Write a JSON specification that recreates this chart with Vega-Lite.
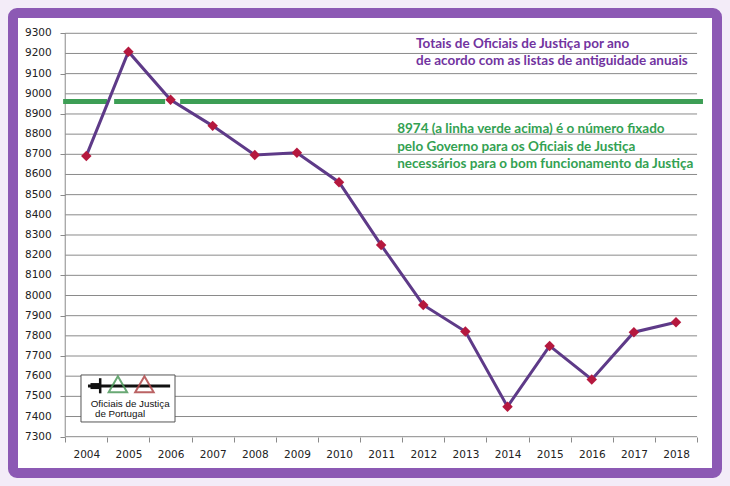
{
  "$schema": "https://vega.github.io/schema/vega-lite/v6.json",
  "width": 704,
  "height": 460,
  "autosize": "none",
  "padding": {"left": 13, "top": 13, "right": 13, "bottom": 13},
  "background": "#f3ecf8",
  "config": {
    "view": {"stroke": "#8c59b4", "strokeWidth": 10, "fill": "#ffffff", "cornerRadius": 4},
    "axis": {"labelFont": "DejaVu Sans", "labelFontSize": 10.5, "labelColor": "#222222", "tickColor": "#8a8a8a", "title": null, "labelFlush": false, "labelBound": false}
  },
  "datasets": {
    "one": [{}],
    "series": [
      {"year": 2004, "value": 8692},
      {"year": 2005, "value": 9209},
      {"year": 2006, "value": 8970},
      {"year": 2007, "value": 8841},
      {"year": 2008, "value": 8697},
      {"year": 2009, "value": 8708},
      {"year": 2010, "value": 8562},
      {"year": 2011, "value": 8250},
      {"year": 2012, "value": 7953},
      {"year": 2013, "value": 7821},
      {"year": 2014, "value": 7449},
      {"year": 2015, "value": 7750},
      {"year": 2016, "value": 7584},
      {"year": 2017, "value": 7818},
      {"year": 2018, "value": 7867}
    ],
    "grid": [
      {"value": 7300}, {"value": 7400}, {"value": 7500}, {"value": 7600}, {"value": 7700},
      {"value": 7800}, {"value": 7900}, {"value": 8000}, {"value": 8100}, {"value": 8200},
      {"value": 8300}, {"value": 8400}, {"value": 8500}, {"value": 8600}, {"value": 8700},
      {"value": 8800}, {"value": 8900}, {"value": 9000}, {"value": 9100}, {"value": 9200},
      {"value": 9300}
    ],
    "purpleNotes": [
      {"label": "Totais de Oficiais de Justiça por ano", "year": 2011.83, "value": 9225},
      {"label": "de acordo com as listas de antiguidade anuais", "year": 2011.83, "value": 9143}
    ],
    "greenNotes": [
      {"label": "8974  (a linha verde acima) é o número fixado", "year": 2011.38, "value": 8808},
      {"label": "pelo Governo para os Oficiais de Justiça", "year": 2011.38, "value": 8716},
      {"label": "necessários para o bom funcionamento da Justiça", "year": 2011.38, "value": 8630}
    ],
    "logoText": [
      {"label": "Oficiais de Justiça", "year": 2005.04, "value": 7460},
      {"label": "de Portugal", "year": 2004.8, "value": 7413}
    ],
    "logoTriangles": [
      {"colour": "green", "year": 2004.75, "value": 7560},
      {"colour": "red", "year": 2005.38, "value": 7560}
    ]
  },
  "layer": [
    {
      "data": {"name": "grid"},
      "mark": {"type": "rule", "color": "#8a8a8a", "strokeWidth": 1},
      "encoding": {
        "x": {
          "datum": 2003.5, "type": "quantitative",
          "scale": {"domain": [2002.26, 2018.973], "nice": false, "zero": false},
          "axis": {
            "orient": "bottom", "offset": -36, "domain": false, "grid": false,
            "values": [2003.5, 2004.5, 2005.5, 2006.5, 2007.5, 2008.5, 2009.5, 2010.5, 2011.5, 2012.5, 2013.5, 2014.5, 2015.5, 2016.5, 2017.5, 2018.5],
            "labelExpr": "datum.value < 2004 ? '' : format(datum.value - 0.5, 'd')",
            "labelOffset": -21, "tickSize": 5, "labelPadding": 7,
            "labelOverlap": false
          }
        },
        "x2": {"datum": 2018.5},
        "y": {
          "field": "value", "type": "quantitative",
          "scale": {"domain": [7120, 9400.6], "nice": false, "zero": false},
          "axis": {
            "orient": "left", "offset": -52, "domain": false, "grid": false, "labels": false,
            "values": [7300, 7400, 7500, 7600, 7700, 7800, 7900, 8000, 8100, 8200, 8300, 8400, 8500, 8600, 8700, 8800, 8900, 9000, 9100, 9200, 9300],
            "tickSize": 5
          }
        }
      }
    },
    {
      "data": {"name": "grid"},
      "mark": {"type": "text", "align": "right", "baseline": "middle", "dx": -13.5, "font": "DejaVu Sans", "fontSize": 10.5, "color": "#222222"},
      "encoding": {
        "x": {"datum": 2003.5, "type": "quantitative", "scale": {"domain": [2002.26, 2018.973], "nice": false, "zero": false}},
        "y": {"field": "value", "type": "quantitative", "scale": {"domain": [7120, 9400.6], "nice": false, "zero": false}},
        "text": {"field": "value", "type": "quantitative", "format": "d"}
      }
    },
    {
      "data": {"name": "one"},
      "mark": {"type": "rule", "color": "#8a8a8a", "strokeWidth": 1},
      "encoding": {
        "x": {"datum": 2003.5, "type": "quantitative", "scale": {"domain": [2002.26, 2018.973], "nice": false, "zero": false}},
        "y": {"datum": 7300, "type": "quantitative", "scale": {"domain": [7120, 9400.6], "nice": false, "zero": false}},
        "y2": {"datum": 9300}
      }
    },
    {
      "data": {"name": "one"},
      "mark": {"type": "rule", "color": "#3d9e55", "strokeWidth": 5, "strokeDash": [44, 7, 51, 15, 700, 0]},
      "encoding": {
        "x": {"datum": 2003.45, "type": "quantitative", "scale": {"domain": [2002.26, 2018.973], "nice": false, "zero": false}},
        "x2": {"datum": 2018.64},
        "y": {"datum": 8962, "type": "quantitative", "scale": {"domain": [7120, 9400.6], "nice": false, "zero": false}}
      }
    },
    {
      "data": {"name": "series"},
      "mark": {"type": "line", "color": "#5e3a88", "strokeWidth": 3},
      "encoding": {
        "x": {"field": "year", "type": "quantitative", "scale": {"domain": [2002.26, 2018.973], "nice": false, "zero": false}},
        "y": {"field": "value", "type": "quantitative", "scale": {"domain": [7120, 9400.6], "nice": false, "zero": false}}
      }
    },
    {
      "data": {"name": "series"},
      "mark": {"type": "point", "shape": "diamond", "filled": true, "size": 110, "color": "#b5183e", "opacity": 1},
      "encoding": {
        "x": {"field": "year", "type": "quantitative", "scale": {"domain": [2002.26, 2018.973], "nice": false, "zero": false}},
        "y": {"field": "value", "type": "quantitative", "scale": {"domain": [7120, 9400.6], "nice": false, "zero": false}}
      }
    },
    {
      "data": {"name": "purpleNotes"},
      "mark": {"type": "text", "align": "left", "baseline": "alphabetic", "font": "Lato", "fontSize": 13.5, "fontWeight": "bold", "color": "#7234a0"},
      "encoding": {
        "x": {"field": "year", "type": "quantitative", "scale": {"domain": [2002.26, 2018.973], "nice": false, "zero": false}},
        "y": {"field": "value", "type": "quantitative", "scale": {"domain": [7120, 9400.6], "nice": false, "zero": false}},
        "text": {"field": "label"}
      }
    },
    {
      "data": {"name": "greenNotes"},
      "mark": {"type": "text", "align": "left", "baseline": "alphabetic", "font": "Lato", "fontSize": 13.5, "fontWeight": "bold", "color": "#33a152"},
      "encoding": {
        "x": {"field": "year", "type": "quantitative", "scale": {"domain": [2002.26, 2018.973], "nice": false, "zero": false}},
        "y": {"field": "value", "type": "quantitative", "scale": {"domain": [7120, 9400.6], "nice": false, "zero": false}},
        "text": {"field": "label"}
      }
    },
    {
      "data": {"name": "one"},
      "mark": {"type": "rect", "fill": "#ffffff", "stroke": "#555555", "strokeWidth": 1},
      "encoding": {
        "x": {"datum": 2003.874, "type": "quantitative", "scale": {"domain": [2002.26, 2018.973], "nice": false, "zero": false}},
        "x2": {"datum": 2006.106},
        "y": {"datum": 7606, "type": "quantitative", "scale": {"domain": [7120, 9400.6], "nice": false, "zero": false}},
        "y2": {"datum": 7373}
      }
    },
    {
      "data": {"name": "one"},
      "mark": {"type": "rule", "color": "#111111", "strokeWidth": 3},
      "encoding": {
        "x": {"datum": 2004.04, "type": "quantitative", "scale": {"domain": [2002.26, 2018.973], "nice": false, "zero": false}},
        "x2": {"datum": 2005.99},
        "y": {"datum": 7551, "type": "quantitative", "scale": {"domain": [7120, 9400.6], "nice": false, "zero": false}}
      }
    },
    {
      "data": {"name": "one"},
      "mark": {"type": "rule", "color": "#111111", "strokeWidth": 6},
      "encoding": {
        "x": {"datum": 2004.1, "type": "quantitative", "scale": {"domain": [2002.26, 2018.973], "nice": false, "zero": false}},
        "x2": {"datum": 2004.33},
        "y": {"datum": 7551, "type": "quantitative", "scale": {"domain": [7120, 9400.6], "nice": false, "zero": false}}
      }
    },
    {
      "data": {"name": "one"},
      "mark": {"type": "rule", "color": "#111111", "strokeWidth": 2.5},
      "encoding": {
        "x": {"datum": 2004.33, "type": "quantitative", "scale": {"domain": [2002.26, 2018.973], "nice": false, "zero": false}},
        "y": {"datum": 7590, "type": "quantitative", "scale": {"domain": [7120, 9400.6], "nice": false, "zero": false}},
        "y2": {"datum": 7515}
      }
    },
    {
      "data": {"name": "logoTriangles"},
      "mark": {"type": "point", "shape": "triangle-up", "filled": false, "size": 340, "strokeWidth": 2, "opacity": 0.85},
      "encoding": {
        "x": {"field": "year", "type": "quantitative", "scale": {"domain": [2002.26, 2018.973], "nice": false, "zero": false}},
        "y": {"field": "value", "type": "quantitative", "scale": {"domain": [7120, 9400.6], "nice": false, "zero": false}},
        "color": {"field": "colour", "type": "nominal", "scale": {"domain": ["green", "red"], "range": ["#4f9a5c", "#b0484a"]}, "legend": null}
      }
    },
    {
      "data": {"name": "logoText"},
      "mark": {"type": "text", "align": "center", "baseline": "middle", "font": "Liberation Sans", "fontSize": 9.8, "color": "#111111"},
      "encoding": {
        "x": {"field": "year", "type": "quantitative", "scale": {"domain": [2002.26, 2018.973], "nice": false, "zero": false}},
        "y": {"field": "value", "type": "quantitative", "scale": {"domain": [7120, 9400.6], "nice": false, "zero": false}},
        "text": {"field": "label"}
      }
    }
  ]
}
